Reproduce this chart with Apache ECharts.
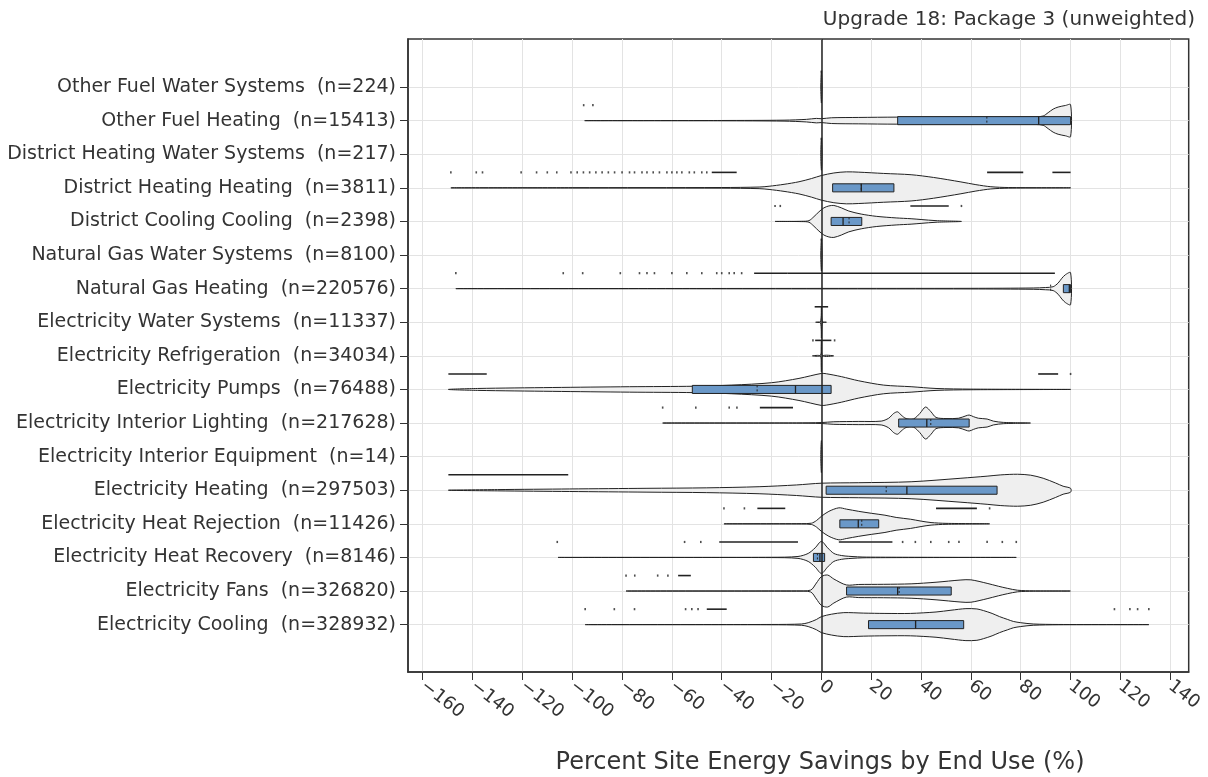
<!DOCTYPE html>
<html>
<head>
<meta charset="utf-8">
<script src="https://cdn.jsdelivr.net/npm/echarts@6/dist/echarts.min.js"></script>
<style>
html,body{margin:0;padding:0;background:#fff;}
#chart{width:1208px;height:777px;}
</style>
</head>
<body>
<div id="chart"></div>
<script>
// End uses, listed top to bottom
const endUses = [
  'Other Fuel Water Systems', 'Other Fuel Heating', 'District Heating Water Systems',
  'District Heating Heating', 'District Cooling Cooling', 'Natural Gas Water Systems',
  'Natural Gas Heating', 'Electricity Water Systems', 'Electricity Refrigeration',
  'Electricity Pumps', 'Electricity Interior Lighting', 'Electricity Interior Equipment',
  'Electricity Heating', 'Electricity Heat Rejection', 'Electricity Heat Recovery',
  'Electricity Fans', 'Electricity Cooling'
];
const sampleCounts = [224, 15413, 217, 3811, 2398, 8100, 220576, 11337, 34034, 76488,
  217628, 14, 297503, 11426, 8146, 326820, 328932];

const xTickValues = [-160, -140, -120, -100, -80, -60, -40, -20, 0, 20, 40, 60, 80, 100, 120, 140];

// Inner box statistics (percent savings)
const q1Values     = [null, 30.6, null, 4.5, 3.9, null, 97.1, null, null, -51.8, 31.0, null, 1.9, 7.4, -3.2, 10.1, 18.9];
const medianValues = [null, 87.2, null, 16.0, 8.7, null, 99.5, null, null, -10.4, 42.3, null, 34.3, 14.8, -0.6, 30.6, 37.8];
const q3Values     = [null, 100, null, 29.1, 16.2, null, 100, null, null, 3.9, 59.3, null, 70.5, 23.0, 1.3, 52.1, 57.1];
const meanValues   = [null, 66.4, null, 16.0, 11.1, null, 92.0, null, null, -25.8, 43.9, null, 26.0, 16.2, -1.6, 31.2, 37.8];

// Density profiles: [savings %, relative density]
const profiles = [
  [[-0.25, 0], [0, 1], [0.25, 0]],
  [[-95, 0], [-40, 0.01], [-15, 0.03], [-6, 0.08], [-2, 0.14], [0, 0.12], [4, 0.18], [15, 0.2], [30, 0.22], [60, 0.22], [86, 0.24], [89, 0.29], [91, 0.5], [93, 0.72], [95, 0.85], [98, 0.95], [100, 1]],
  [[-0.25, 0], [0, 1], [0.25, 0]],
  [[-148.7, 0], [-100, 0.01], [-40, 0.02], [-25, 0.05], [-21, 0.1], [-15, 0.22], [-9, 0.38], [-4, 0.58], [0, 0.77], [5, 0.93], [10, 1], [15, 0.98], [25, 0.9], [36, 0.82], [45, 0.65], [56, 0.37], [62, 0.2], [68, 0.07], [75, 0.02], [100, 0]],
  [[-18.6, 0], [-8, 0.01], [-5, 0.05], [-3, 0.3], [-1, 0.6], [1, 0.85], [3, 0.97], [5, 1], [8, 0.85], [11, 0.65], [16, 0.46], [22, 0.32], [30, 0.22], [36, 0.17], [40, 0.12], [46, 0.05], [56.2, 0]],
  [[-0.25, 0], [0, 1], [0.25, 0]],
  [[-146.7, 0], [-50, 0.01], [0, 0.015], [60, 0.02], [85, 0.04], [90, 0.07], [93, 0.12], [95, 0.35], [96.5, 0.65], [98, 0.88], [100, 1]],
  [[-2.3, 0], [-0.4, 0.02], [0, 1], [0.4, 0.02], [2, 0]],
  [[-3.6, 0], [-0.4, 0.02], [0, 1], [0.4, 0.02], [4.9, 0]],
  [[-149.7, 0], [-138, 0.06], [-108, 0.12], [-77, 0.17], [-51, 0.2], [-36, 0.27], [-20, 0.42], [-9, 0.69], [0, 1], [2, 0.98], [8, 0.8], [15, 0.54], [25, 0.27], [36, 0.17], [46, 0.06], [60, 0.02], [100, 0]],
  [[-63.7, 0], [-10, 0.005], [0, 0.03], [5, 0.08], [15, 0.1], [24, 0.12], [27, 0.3], [29, 0.6], [30.6, 0.7], [32, 0.5], [34, 0.28], [37, 0.26], [39.5, 0.6], [41.8, 1], [44, 0.7], [46, 0.35], [50, 0.28], [55, 0.3], [58, 0.45], [59.3, 0.5], [61, 0.4], [63, 0.3], [66.5, 0.25], [69, 0.12], [73, 0.04], [83.9, 0]],
  [[-0.25, 0], [0, 1], [0.25, 0]],
  [[-149.7, 0], [-130, 0.04], [-101, 0.08], [-70, 0.12], [-46, 0.15], [-25, 0.22], [-10, 0.33], [0, 0.44], [15, 0.47], [36, 0.53], [56, 0.75], [66.5, 0.88], [72, 0.96], [78.7, 1], [84, 0.94], [89, 0.75], [94, 0.45], [97, 0.25], [100, 0.12]],
  [[-39.1, 0], [-8, 0.01], [-4, 0.04], [-2, 0.2], [0, 0.47], [3, 0.78], [7, 1], [10, 0.92], [15, 0.78], [20, 0.66], [25.5, 0.54], [30, 0.4], [35.7, 0.29], [40, 0.17], [44, 0.08], [50, 0.03], [67.5, 0]],
  [[-105.7, 0], [-20, 0.01], [-9.4, 0.06], [-5.3, 0.25], [-2.5, 0.6], [0, 1], [2.5, 0.6], [5, 0.25], [8, 0.12], [11, 0.07], [18, 0.02], [78.2, 0]],
  [[-78.4, 0], [-10, 0.01], [-4.3, 0.06], [-2, 0.5], [0, 0.9], [2.5, 1], [5, 0.75], [10, 0.38], [15, 0.41], [25, 0.42], [36, 0.45], [46, 0.55], [56, 0.69], [60, 0.7], [66.5, 0.48], [71, 0.3], [74.6, 0.17], [78.7, 0.05], [85, 0.01], [99.9, 0]],
  [[-94.8, 0], [-20, 0.01], [-8, 0.04], [-5.3, 0.12], [-2, 0.32], [0, 0.5], [4, 0.65], [9, 0.75], [17, 0.72], [25.5, 0.7], [35.7, 0.7], [46, 0.79], [52, 0.9], [58, 1], [62.4, 0.98], [65, 0.88], [68.5, 0.7], [71.5, 0.5], [74.6, 0.33], [77, 0.2], [80, 0.12], [85, 0.04], [95, 0.01], [131.4, 0]]
];

// Individual outlying samples
const outlierPoints = [
  [0],
  [-95.4, -91.7],
  [0],
  [-148.7, -138.5, -136, -120.5, -114.3, -110, -106.2, -100.5, -98, -95.5, -93, -90.5, -88, -85.5, -83, -80, -77, -75, -72, -70, -67.5, -65, -62, -60, -58, -56, -53, -51, -48, -46],
  [-18.6, -16.5, 56.2],
  [0],
  [-146.7, -103.6, -95.8, -80.7, -73, -70, -67, -60, -54, -48, -42, -40, -37, -35, -32],
  [],
  [-3.4, 5.3],
  [100],
  [-63.7, -50.4, -37, -33.9],
  [],
  [],
  [-39.1, -30.9, 67.5],
  [-106, -54.9, -48.4, 32.6, 37.7, 43.9, 51.1, 55.2, 66.5, 72.6, 78.2],
  [-78.4, -74.9, -65.7, -61.6],
  [-94.8, -83.1, -75, -54.5, -52, -49.5, 117.6, 123.8, 126.9, 131.4]
];
// Stretches where outlying samples are packed edge to edge
const outlierRuns = [
  [], [], [],
  [[-44, -34], [66.5, 81], [92.7, 100]],
  [[35.7, 51.1]],
  [],
  [[-27, -13.5], [-13.5, 93.7]],
  [[-2.7, 2.7]],
  [[-2.5, 4]],
  [[-149.7, -134.3], [87, 95]],
  [[-24.7, -11.4]],
  [],
  [[-149.7, -101.6]],
  [[-25.7, -14.5], [46, 62.4]],
  [[-41, -9.4], [7, 28.5]],
  [[-57.5, -52.4]],
  [[-46, -38]]
];

const ROWS = endUses.length;
const rowY = i => ROWS - 1 - i;
const VIOLIN_HALF = 0.476;   // widest violin half-height, in row units
const BOX_HALF = 0.12;       // inner box half-height, in row units
const POINT_SHIFT = 0.46;    // outliers sit above their violin
const FONT = 'DejaVu Sans';
const INK = '#222';
const TEXT = '#333';

function renderViolin(params, api) {
  const i = params.dataIndex;
  const y = rowY(i);
  const unit = api.size([0, 1])[1];
  const half = VIOLIN_HALF * unit;
  const prof = profiles[i];
  const top = prof.map(([v, w]) => { const p = api.coord([v, y]); return [p[0], p[1] - w * half]; });
  const bot = [];
  for (let k = prof.length - 1; k >= 0; k--) {
    const [v, w] = prof[k];
    if ((k === prof.length - 1 || k === 0) && w === 0) continue;
    const p = api.coord([v, y]);
    bot.push([p[0], p[1] + w * half]);
  }
  const children = [{
    type: 'polygon',
    shape: { points: top.concat(bot), smooth: 0.3 },
    style: { fill: '#efefef', stroke: INK, lineWidth: 1 }
  }];
  if (q1Values[i] !== null) {
    const a = api.coord([q1Values[i], y]);
    const b = api.coord([q3Values[i], y]);
    const bh = BOX_HALF * unit;
    children.push({
      type: 'rect',
      shape: { x: a[0], y: a[1] - bh, width: b[0] - a[0], height: 2 * bh },
      style: { fill: '#6a98c8', stroke: INK, lineWidth: 1 }
    });
    const mn = api.coord([meanValues[i], y]);
    children.push({
      type: 'line',
      shape: { x1: mn[0], y1: mn[1] - bh, x2: mn[0], y2: mn[1] + bh },
      style: { stroke: INK, lineWidth: 1, lineDash: [2, 2] }
    });
    const md = api.coord([medianValues[i], y]);
    children.push({
      type: 'line',
      shape: { x1: md[0], y1: md[1] - bh, x2: md[0], y2: md[1] + bh },
      style: { stroke: INK, lineWidth: 1.3 }
    });
  }
  return { type: 'group', children };
}

function renderRuns(params, api) {
  const i = params.dataIndex;
  const y = rowY(i) + POINT_SHIFT;
  const children = outlierRuns[i].map(([a, b]) => {
    const pa = api.coord([a, y]);
    const pb = api.coord([b, y]);
    return { type: 'line', shape: { x1: pa[0], y1: pa[1], x2: pb[0], y2: pb[1] }, style: { stroke: INK, lineWidth: 1.6 } };
  });
  return { type: 'group', children };
}

const pointData = [];
outlierPoints.forEach((vals, i) => vals.forEach(v => pointData.push([v, rowY(i) + POINT_SHIFT])));

const rowData = endUses.map((_, i) => [0, rowY(i)]);
const rowTicks = endUses.map((_, i) => rowY(i));

const chart = echarts.init(document.getElementById('chart'), null, { renderer: 'canvas' });
chart.setOption({
  animation: false,
  backgroundColor: '#fff',
  title: {
    text: 'Upgrade 18: Package 3 (unweighted)',
    right: 8, top: 5,
    textStyle: { fontFamily: FONT, fontSize: 20, fontWeight: 'normal', color: TEXT }
  },
  graphic: [{
    type: 'text', x: 820, y: 763,
    style: {
      text: 'Percent Site Energy Savings by End Use (%)',
      font: '24px "DejaVu Sans"', fill: TEXT, textAlign: 'center', textVerticalAlign: 'middle'
    }
  }],
  grid: {
    left: 408, right: 19.3, top: 39, bottom: 105,
    show: true, borderColor: '#333', borderWidth: 1.5, backgroundColor: 'transparent'
  },
  xAxis: {
    type: 'value', min: -165.9, max: 147.4,
    axisLine: { show: true, onZero: false, lineStyle: { color: '#333', width: 1.5 } },
    axisTick: { show: true, inside: false, length: 8, customValues: xTickValues, lineStyle: { color: '#333', width: 1 } },
    axisLabel: {
      customValues: xTickValues, rotate: -38, margin: 12,
      fontFamily: FONT, fontSize: 18, color: TEXT,
      formatter: v => (v < 0 ? '\u2212' + Math.abs(v) : String(v))
    },
    splitLine: { show: true, lineStyle: { color: '#e3e3e3', width: 1 } }
  },
  yAxis: {
    type: 'value', min: -1.41, max: 17.43,
    axisLine: { show: true, onZero: false, lineStyle: { color: '#333', width: 1.5 } },
    axisTick: { show: true, length: 8, customValues: rowTicks, lineStyle: { color: '#333', width: 1 } },
    axisLabel: {
      customValues: rowTicks, margin: 12,
      fontFamily: FONT, fontSize: 19, color: TEXT,
      formatter: v => {
        const i = ROWS - 1 - Math.round(v);
        return endUses[i] + '  (n=' + sampleCounts[i] + ')';
      }
    },
    splitLine: { show: true, lineStyle: { color: '#e3e3e3', width: 1 } }
  },
  series: [
    {
      type: 'custom', name: 'violins', renderItem: renderViolin, data: rowData, z: 2, silent: true
    },
    {
      type: 'custom', name: 'dense outliers', renderItem: renderRuns, data: rowData, z: 4, silent: true,
      markLine: {
        silent: true, symbol: ['none', 'none'], label: { show: false },
        lineStyle: { color: '#222', width: 1.5, type: 'solid' },
        data: [{ xAxis: 0 }]
      }
    },
    {
      type: 'scatter', name: 'outliers', data: pointData, symbol: 'rect', symbolSize: [1.6, 2.2],
      itemStyle: { color: INK }, z: 5, silent: true
    }
  ]
});
</script>
</body>
</html>
